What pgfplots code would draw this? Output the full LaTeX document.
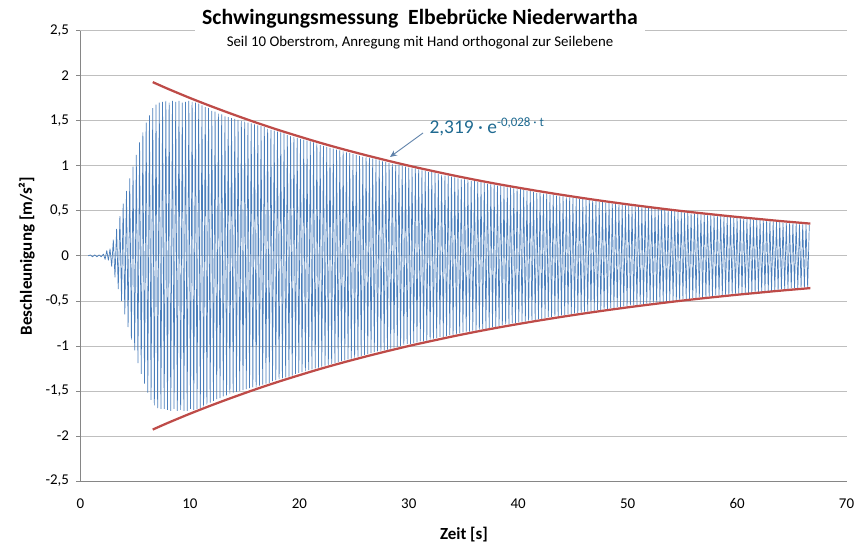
\documentclass[border=0pt]{standalone}
\usepackage{pgfplots}
\pgfplotsset{compat=1.18}
\usetikzlibrary{arrows.meta}
\usepackage{fontspec}
\setmainfont{Carlito}
\definecolor{sigblue}{RGB}{74,126,187}
\definecolor{envred}{RGB}{190,75,72}
\definecolor{gridgray}{RGB}{191,191,191}
\definecolor{axgray}{RGB}{134,134,134}
\definecolor{anntext}{RGB}{31,106,145}
\definecolor{arrowc}{RGB}{95,130,170}
\begin{document}
\begin{tikzpicture}
\path[use as bounding box] (-80.5bp,-65bp) rectangle (787.5bp,481bp);
\begin{axis}[
  at={(0,0)}, anchor=south west,
  scale only axis, width=766bp, height=450.3bp,
  xmin=0, xmax=70, ymin=-2.5, ymax=2.5,
  xtick={0,10,20,30,40,50,60,70},
  ytick={-2.5,-2,-1.5,-1,-0.5,0,0.5,1,1.5,2,2.5},
  axis lines=left,
  axis line style={-, draw=axgray, line width=0.75bp},
  ymajorgrids,
  grid style={draw=gridgray, line width=0.75bp},
  tick align=outside,
  major tick length=4bp,
  xtick style={draw=none},
  ytick style={draw=axgray, line width=0.75bp},
  /pgf/number format/assume math mode=true,
  /pgf/number format/use comma,
  /pgf/number format/fixed,
  /pgf/number format/precision=1,
  xticklabel style={font=\fontsize{15}{17}\selectfont, yshift=-10bp},
  yticklabel style={font=\fontsize{15}{17}\selectfont, xshift=-4bp},
  clip=false,
]
\addplot[sigblue, line width=0.7bp, line join=bevel] table[row sep=\\] {
t y\\
0.70 0\\0.90 0.01\\1.10 -0.01\\1.30 0.01\\1.50 -0.01\\1.70 0.01\\1.90 -0.01\\2.10 0.02\\2.25 -0.04\\2.40 0.06\\2.55 -0.05\\2.70 0.08\\2.85 -0.12\\
3.00 0.18\\3.15 -0.24\\3.30 0.30\\3.45 -0.37\\3.60 0.44\\3.75 -0.50\\3.90 0.58\\4.05 -0.65\\4.20 0.72\\4.35 -0.79\\
4.50 0.86\\4.65 -0.93\\4.80 0.99\\4.95 -1.05\\5.10 1.12\\5.25 -1.19\\5.40 1.26\\5.55 -1.31\\5.70 1.37\\5.85 -1.42\\
6.00 1.48\\6.15 -1.52\\6.30 1.56\\6.45 -1.60\\6.60 1.64\\6.75 -1.66\\6.90 1.68\\7.05 -1.69\\7.20 1.70\\7.35 -1.70\\
7.50 1.71\\7.65 -1.70\\7.80 1.72\\7.95 -1.71\\8.10 1.70\\8.25 -1.72\\8.40 1.72\\8.55 -1.70\\8.70 1.71\\8.85 -1.72\\
9.00 1.72\\9.15 -1.71\\9.30 1.70\\9.45 -1.72\\9.60 1.71\\9.75 -1.72\\9.90 1.72\\10.05 -1.70\\10.20 1.71\\10.35 -1.71\\
10.50 1.70\\10.65 -1.70\\10.80 1.69\\10.95 -1.69\\11.10 1.67\\11.25 -1.67\\11.40 1.65\\11.55 -1.65\\11.70 1.64\\11.85 -1.63\\
12.00 1.61\\12.15 -1.61\\12.30 1.60\\12.45 -1.59\\12.60 1.58\\12.75 -1.58\\12.90 1.57\\13.05 -1.56\\13.20 1.55\\13.35 -1.55\\
13.50 1.54\\13.65 -1.53\\13.80 1.53\\13.95 -1.52\\14.10 1.52\\14.25 -1.51\\14.40 1.51\\14.55 -1.50\\14.70 1.50\\14.85 -1.49\\
15.00 1.49\\15.15 -1.48\\15.30 1.48\\15.45 -1.47\\15.60 1.47\\15.75 -1.46\\15.90 1.46\\16.05 -1.46\\16.20 1.45\\16.35 -1.44\\
16.50 1.44\\16.65 -1.43\\16.80 1.43\\16.95 -1.42\\17.10 1.41\\17.25 -1.41\\17.40 1.40\\17.55 -1.39\\17.70 1.39\\17.85 -1.38\\
18.00 1.38\\18.15 -1.37\\18.30 1.37\\18.45 -1.36\\18.60 1.36\\18.75 -1.35\\18.90 1.34\\19.05 -1.34\\19.20 1.33\\19.35 -1.33\\
19.50 1.32\\19.65 -1.31\\19.80 1.31\\19.95 -1.30\\20.10 1.30\\20.25 -1.29\\20.40 1.29\\20.55 -1.28\\20.70 1.28\\20.85 -1.27\\
21.00 1.27\\21.15 -1.26\\21.30 1.26\\21.45 -1.25\\21.60 1.25\\21.75 -1.24\\21.90 1.23\\22.05 -1.23\\22.20 1.22\\22.35 -1.22\\
22.50 1.21\\22.65 -1.21\\22.80 1.20\\22.95 -1.20\\23.10 1.19\\23.25 -1.19\\23.40 1.18\\23.55 -1.18\\23.70 1.17\\23.85 -1.17\\
24.00 1.16\\24.15 -1.16\\24.30 1.15\\24.45 -1.15\\24.60 1.14\\24.75 -1.14\\24.90 1.13\\25.05 -1.13\\25.20 1.12\\25.35 -1.12\\
25.50 1.11\\25.65 -1.11\\25.80 1.10\\25.95 -1.10\\26.10 1.10\\26.25 -1.09\\26.40 1.09\\26.55 -1.08\\26.70 1.08\\26.85 -1.07\\
27.00 1.07\\27.15 -1.06\\27.30 1.06\\27.45 -1.06\\27.60 1.05\\27.75 -1.05\\27.90 1.04\\28.05 -1.04\\28.20 1.03\\28.35 -1.03\\
28.50 1.02\\28.65 -1.02\\28.80 1.01\\28.95 -1.01\\29.10 1.01\\29.25 -1.00\\29.40 1.00\\29.55 -0.99\\29.70 0.99\\29.85 -0.98\\
30.00 0.98\\30.15 -0.98\\30.30 0.97\\30.45 -0.97\\30.60 0.97\\30.75 -0.96\\30.90 0.96\\31.05 -0.95\\31.20 0.95\\31.35 -0.95\\
31.50 0.94\\31.65 -0.94\\31.80 0.93\\31.95 -0.93\\32.10 0.93\\32.25 -0.92\\32.40 0.92\\32.55 -0.91\\32.70 0.91\\32.85 -0.90\\
33.00 0.90\\33.15 -0.90\\33.30 0.89\\33.45 -0.89\\33.60 0.89\\33.75 -0.88\\33.90 0.88\\34.05 -0.88\\34.20 0.87\\34.35 -0.87\\
34.50 0.86\\34.65 -0.86\\34.80 0.85\\34.95 -0.85\\35.10 0.85\\35.25 -0.84\\35.40 0.84\\35.55 -0.84\\35.70 0.83\\35.85 -0.83\\
36.00 0.83\\36.15 -0.83\\36.30 0.82\\36.45 -0.82\\36.60 0.82\\36.75 -0.81\\36.90 0.81\\37.05 -0.81\\37.20 0.80\\37.35 -0.80\\
37.50 0.80\\37.65 -0.79\\37.80 0.79\\37.95 -0.79\\38.10 0.78\\38.25 -0.78\\38.40 0.78\\38.55 -0.77\\38.70 0.77\\38.85 -0.76\\
39.00 0.76\\39.15 -0.76\\39.30 0.76\\39.45 -0.75\\39.60 0.75\\39.75 -0.75\\39.90 0.74\\40.05 -0.74\\40.20 0.74\\40.35 -0.73\\
40.50 0.73\\40.65 -0.73\\40.80 0.72\\40.95 -0.72\\41.10 0.72\\41.25 -0.71\\41.40 0.71\\41.55 -0.71\\41.70 0.70\\41.85 -0.70\\
42.00 0.70\\42.15 -0.70\\42.30 0.69\\42.45 -0.69\\42.60 0.69\\42.75 -0.68\\42.90 0.68\\43.05 -0.68\\43.20 0.68\\43.35 -0.67\\
43.50 0.67\\43.65 -0.67\\43.80 0.66\\43.95 -0.66\\44.10 0.66\\44.25 -0.66\\44.40 0.65\\44.55 -0.65\\44.70 0.65\\44.85 -0.65\\
45.00 0.64\\45.15 -0.64\\45.30 0.64\\45.45 -0.64\\45.60 0.63\\45.75 -0.63\\45.90 0.63\\46.05 -0.62\\46.20 0.62\\46.35 -0.62\\
46.50 0.62\\46.65 -0.61\\46.80 0.61\\46.95 -0.61\\47.10 0.61\\47.25 -0.60\\47.40 0.60\\47.55 -0.60\\47.70 0.60\\47.85 -0.59\\
48.00 0.59\\48.15 -0.59\\48.30 0.59\\48.45 -0.58\\48.60 0.58\\48.75 -0.58\\48.90 0.58\\49.05 -0.57\\49.20 0.57\\49.35 -0.57\\
49.50 0.57\\49.65 -0.56\\49.80 0.56\\49.95 -0.56\\50.10 0.56\\50.25 -0.55\\50.40 0.55\\50.55 -0.55\\50.70 0.55\\50.85 -0.55\\
51.00 0.54\\51.15 -0.54\\51.30 0.54\\51.45 -0.54\\51.60 0.54\\51.75 -0.53\\51.90 0.53\\52.05 -0.53\\52.20 0.53\\52.35 -0.52\\
52.50 0.52\\52.65 -0.52\\52.80 0.52\\52.95 -0.51\\53.10 0.51\\53.25 -0.51\\53.40 0.51\\53.55 -0.51\\53.70 0.50\\53.85 -0.50\\
54.00 0.50\\54.15 -0.50\\54.30 0.50\\54.45 -0.49\\54.60 0.49\\54.75 -0.49\\54.90 0.49\\55.05 -0.48\\55.20 0.48\\55.35 -0.48\\
55.50 0.48\\55.65 -0.48\\55.80 0.47\\55.95 -0.47\\56.10 0.47\\56.25 -0.47\\56.40 0.47\\56.55 -0.46\\56.70 0.46\\56.85 -0.46\\
57.00 0.46\\57.15 -0.46\\57.30 0.45\\57.45 -0.45\\57.60 0.45\\57.75 -0.45\\57.90 0.45\\58.05 -0.44\\58.20 0.44\\58.35 -0.44\\
58.50 0.44\\58.65 -0.44\\58.80 0.43\\58.95 -0.43\\59.10 0.43\\59.25 -0.43\\59.40 0.43\\59.55 -0.42\\59.70 0.42\\59.85 -0.42\\
60.00 0.42\\60.15 -0.42\\60.30 0.42\\60.45 -0.42\\60.60 0.41\\60.75 -0.41\\60.90 0.41\\61.05 -0.41\\61.20 0.41\\61.35 -0.41\\
61.50 0.40\\61.65 -0.40\\61.80 0.40\\61.95 -0.40\\62.10 0.40\\62.25 -0.40\\62.40 0.39\\62.55 -0.39\\62.70 0.39\\62.85 -0.39\\
63.00 0.39\\63.15 -0.39\\63.30 0.38\\63.45 -0.38\\63.60 0.38\\63.75 -0.38\\63.90 0.38\\64.05 -0.37\\64.20 0.37\\64.35 -0.37\\
64.50 0.37\\64.65 -0.37\\64.80 0.36\\64.95 -0.36\\65.10 0.36\\65.25 -0.36\\65.40 0.36\\65.55 -0.36\\65.70 0.35\\65.85 -0.35\\
66.00 0.35\\66.15 -0.35\\66.30 0.35\\66.45 -0.35\\66.60 0.34\\
};
\addplot[envred, line width=2.25bp, smooth] coordinates {
(6.6,1.929)(8,1.854)(10,1.753)(12,1.658)(14,1.568)(16,1.482)(18,1.401)(20,1.325)(22,1.252)(24,1.184)(26,1.120)(28,1.059)(30,1.001)(32,0.947)(34,0.895)(36,0.846)(38,0.800)(40,0.757)(42,0.716)(44,0.677)(46,0.640)(48,0.605)(50,0.572)(52,0.541)(54,0.511)(56,0.483)(58,0.457)(60,0.432)(62,0.409)(64,0.386)(66.7,0.358)
};
\addplot[envred, line width=2.25bp, smooth] coordinates {
(6.6,-1.929)(8,-1.854)(10,-1.753)(12,-1.658)(14,-1.568)(16,-1.482)(18,-1.401)(20,-1.325)(22,-1.252)(24,-1.184)(26,-1.120)(28,-1.059)(30,-1.001)(32,-0.947)(34,-0.895)(36,-0.846)(38,-0.800)(40,-0.757)(42,-0.716)(44,-0.677)(46,-0.640)(48,-0.605)(50,-0.572)(52,-0.541)(54,-0.511)(56,-0.483)(58,-0.457)(60,-0.432)(62,-0.409)(64,-0.386)(66.7,-0.358)
};
\end{axis}
\fill[white] (114.5bp,446bp) rectangle (564.5bp,456bp);
\node[font=\bfseries\fontsize{21.8}{24}\selectfont, inner sep=0] at (339.5bp,462bp) {Schwingungsmessung\ \ Elbebrücke Niederwartha};
\node[font=\fontsize{14.9}{17}\selectfont, inner sep=0] at (339.5bp,438.7bp) {Seil 10 Oberstrom, Anregung mit Hand orthogonal zur Seilebene};
\node[rotate=90, font=\bfseries\fontsize{17}{19}\selectfont, inner sep=0] at (-53.8bp,225bp) {Beschleunigung [m/s²]};
\node[font=\bfseries\fontsize{17}{19}\selectfont, inner sep=0] at (383.5bp,-53.5bp) {Zeit [s]};
\draw[arrowc, line width=0.9bp, -{Stealth[length=7bp,width=6bp]}] (342.5bp,348bp) -- (309.5bp,324bp);
\node[anchor=base west, inner sep=0, text=anntext, font=\fontsize{19.5}{21}\selectfont] at (348.8bp,347.7bp) {2,319 · e\raisebox{6.5bp}{\fontsize{13}{14}\selectfont -0,028 · t}};
\end{tikzpicture}
\end{document}
